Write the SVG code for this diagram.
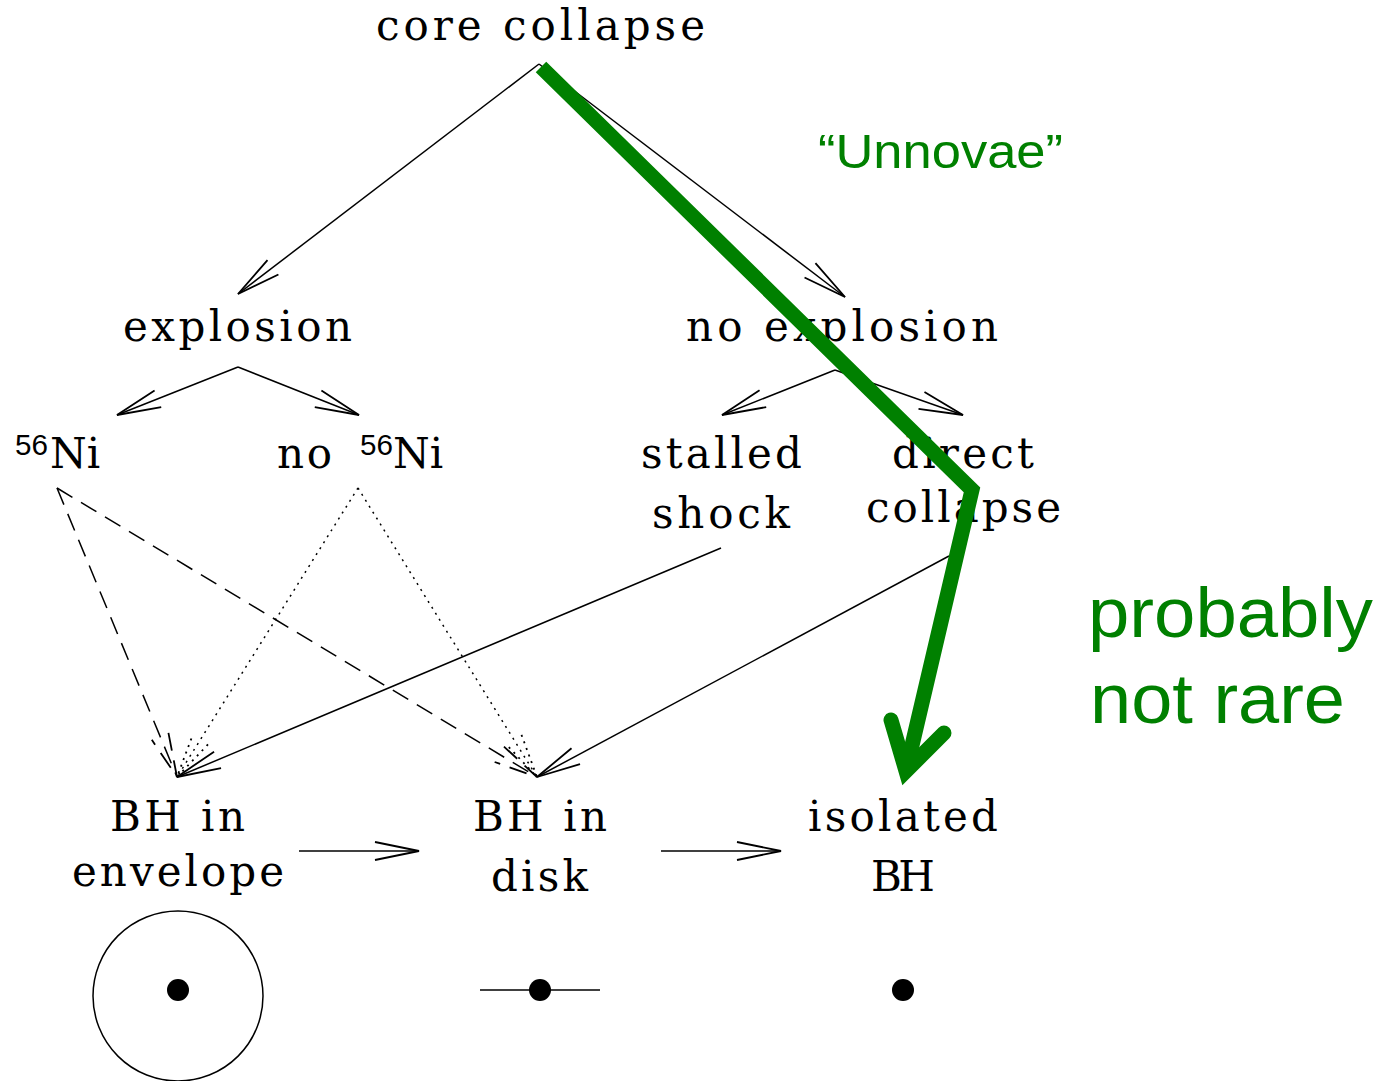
<svg xmlns="http://www.w3.org/2000/svg" width="1393" height="1081" viewBox="0 0 1393 1081">
<style>
.t{font-family:"DejaVu Serif","Liberation Serif",serif;font-size:42px;fill:#000}
.sup{font-family:"Liberation Sans",Arial,sans-serif;font-size:29px;fill:#000}
.g{font-family:"Liberation Sans",Arial,sans-serif;fill:#008000}
.ln{stroke:#000;stroke-width:1.5;fill:none}
.dash{stroke-dasharray:18 10}
.dot{stroke-dasharray:2 5}
</style>
<defs>
<marker id="ah" markerUnits="userSpaceOnUse" markerWidth="60" markerHeight="60" orient="auto" refX="0" refY="0" overflow="visible">
<path d="M-44,-9 L0,0 L-44,9" fill="none" stroke="#000" stroke-width="1.8"/>
</marker>
<marker id="ahd" markerUnits="userSpaceOnUse" markerWidth="60" markerHeight="60" orient="auto" refX="0" refY="0" overflow="visible">
<path d="M-44,-9 L0,0 L-44,9" fill="none" stroke="#000" stroke-width="1.8" stroke-dasharray="18 10"/>
</marker>
<marker id="aho" markerUnits="userSpaceOnUse" markerWidth="60" markerHeight="60" orient="auto" refX="0" refY="0" overflow="visible">
<path d="M-44,-9 L0,0 L-44,9" fill="none" stroke="#000" stroke-width="1.8" stroke-dasharray="2 5"/>
</marker>
</defs>
<rect width="1393" height="1081" fill="#fff"/>

<g id="connectors">
<line class="ln" x1="539" y1="64" x2="238" y2="294" marker-end="url(#ah)"/>
<line class="ln" x1="539" y1="64" x2="845" y2="297" marker-end="url(#ah)"/>
<line class="ln" x1="238" y1="367" x2="117" y2="415" marker-end="url(#ah)"/>
<line class="ln" x1="238" y1="367" x2="359" y2="415" marker-end="url(#ah)"/>
<line class="ln" x1="835" y1="370" x2="722" y2="415" marker-end="url(#ah)"/>
<line class="ln" x1="835" y1="370" x2="963" y2="415" marker-end="url(#ah)"/>
<line class="ln dash" x1="57" y1="488" x2="177" y2="777" marker-end="url(#ahd)"/>
<line class="ln dash" x1="57" y1="488" x2="537" y2="777" marker-end="url(#ahd)"/>
<line class="ln dot" x1="358" y1="488" x2="177" y2="777" marker-end="url(#aho)"/>
<line class="ln dot" x1="358" y1="488" x2="537" y2="777" marker-end="url(#aho)"/>
<line class="ln" x1="721" y1="548" x2="177" y2="777" marker-end="url(#ah)"/>
<line class="ln" x1="949" y1="556" x2="537" y2="777" marker-end="url(#ah)"/>
<line class="ln" x1="299" y1="851" x2="419" y2="851" marker-end="url(#ah)"/>
<line class="ln" x1="661" y1="851" x2="781" y2="851" marker-end="url(#ah)"/>
</g>

<g id="core-collapse"><text class="t" x="376" y="40" textLength="329" lengthAdjust="spacing">core collapse</text></g>
<g id="explosion"><text class="t" x="123" y="341" textLength="229" lengthAdjust="spacing">explosion</text></g>
<g id="no-explosion"><text class="t" x="686" y="341" textLength="312" lengthAdjust="spacing">no explosion</text></g>
<g id="ni56">
<text class="sup" x="15" y="455" textLength="33" lengthAdjust="spacingAndGlyphs">56</text>
<text class="t" x="50" y="468">Ni</text>
</g>
<g id="no-ni56">
<text class="t" x="277" y="468" textLength="55" lengthAdjust="spacing">no</text>
<text class="sup" x="360" y="455" textLength="33" lengthAdjust="spacingAndGlyphs">56</text>
<text class="t" x="393" y="468">Ni</text>
</g>
<g id="stalled-shock">
<text class="t" x="641" y="468" textLength="161" lengthAdjust="spacing">stalled</text>
<text class="t" x="652" y="528" textLength="138" lengthAdjust="spacing">shock</text>
</g>
<g id="direct-collapse">
<text class="t" x="892" y="468" textLength="142" lengthAdjust="spacing">direct</text>
<text class="t" x="866" y="522" textLength="195" lengthAdjust="spacing">collapse</text>
</g>
<g id="bh-envelope">
<text class="t" x="110" y="831" textLength="135" lengthAdjust="spacing">BH in</text>
<text class="t" x="72" y="886" textLength="212" lengthAdjust="spacing">envelope</text>
<circle cx="178" cy="996" r="85" fill="none" stroke="#000" stroke-width="1.5"/>
<circle cx="178" cy="990" r="11" fill="#000"/>
</g>
<g id="bh-disk">
<text class="t" x="473" y="831" textLength="134" lengthAdjust="spacing">BH in</text>
<text class="t" x="491" y="891" textLength="97" lengthAdjust="spacing">disk</text>
<line x1="480" y1="990" x2="600" y2="990" stroke="#000" stroke-width="1.5"/>
<circle cx="540" cy="990" r="11" fill="#000"/>
</g>
<g id="isolated-bh">
<text class="t" x="808" y="831" textLength="190" lengthAdjust="spacing">isolated</text>
<text class="t" x="871" y="891" textLength="64" lengthAdjust="spacing">BH</text>
<circle cx="903" cy="990" r="11" fill="#000"/>
</g>

<g id="unnovae-path">
<path d="M541,67 L972,490 L906,771" fill="none" stroke="#008000" stroke-width="15" stroke-linejoin="miter"/>
<path d="M891,720 L906,771 L944,733" fill="none" stroke="#008000" stroke-width="15" stroke-linejoin="miter" stroke-linecap="round" stroke-miterlimit="10"/>
</g>
<g id="unnovae-label"><text class="g" x="818" y="168" font-size="49" textLength="245" lengthAdjust="spacingAndGlyphs">“Unnovae”</text></g>
<g id="probably-label">
<text class="g" x="1088" y="637" font-size="71" textLength="285" lengthAdjust="spacingAndGlyphs">probably</text>
<text class="g" x="1090" y="723" font-size="71" textLength="255" lengthAdjust="spacingAndGlyphs">not rare</text>
</g>
</svg>
